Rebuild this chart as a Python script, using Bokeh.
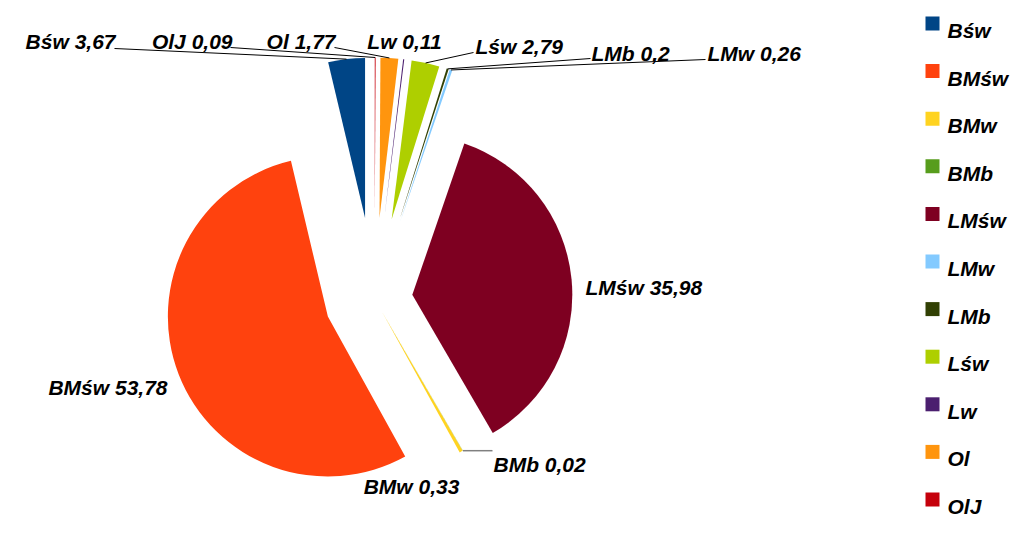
import math
from bokeh.plotting import figure
from bokeh.models import Range1d, ColumnDataSource
from bokeh.core.properties import value
from bokeh.embed import file_html
from bokeh.resources import INLINE

# ---- data ----
categories = ["Bśw", "BMśw", "BMw", "BMb", "LMśw", "LMw", "LMb", "Lśw", "Lw", "Ol", "OlJ"]
shares = [3.67, 53.78, 0.33, 0.02, 35.98, 0.26, 0.2, 2.79, 0.11, 1.77, 0.09]
colors = ["#004586", "#ff420e", "#ffd320", "#579d1c", "#7e0021", "#83caff",
          "#314004", "#aecf00", "#4b1f6f", "#ff950e", "#c5000b"]

# ---- styling / layout (pixels) ----
explode = [81, 50, 16, 16, 38, 81, 81, 81, 81, 81, 81]
W, H = 1017, 520
FONT = value("Liberation Sans")
FS = "21px"


def Y(img_y):
    return H - img_y


cx, cy = 374, Y(298)
R = 160

# label anchors in picture pixels: (x, baseline y, align, leader start or None)
label_layout = {
    "Bśw": (115, 41, "right", (114, 48)),
    "OlJ": (232, 41, "right", (230, 47)),
    "Ol": (335, 41, "right", (334, 47)),
    "Lw": (404, 41, "center", None),
    "Lśw": (475, 46, "left", (473, 52)),
    "LMb": (591, 53, "left", (590, 58)),
    "LMw": (707, 53, "left", (705, 59)),
    "LMśw": (585, 287, "left", None),
    "BMśw": (167, 387, "right", None),
    "BMw": (411, 486, "center", None),
    "BMb": (493, 464, "left", "side"),
}

p = figure(width=W, height=H, output_backend="svg", toolbar_location=None,
           x_range=Range1d(0, W), y_range=Range1d(0, H),
           min_border=0, outline_line_color=None)
p.axis.visible = False
p.grid.visible = False
p.background_fill_color = "white"
p.border_fill_color = "white"

total = sum(shares)
ang = math.pi / 2
xs, ys, starts, ends, bis = [], [], [], [], []
for s, d in zip(shares, explode):
    sweep = s / total * 2 * math.pi
    mid = ang + sweep / 2
    xs.append(cx + d * math.cos(mid))
    ys.append(cy + d * math.sin(mid))
    starts.append(ang)
    ends.append(ang + sweep)
    bis.append(mid)
    ang += sweep

src = ColumnDataSource(dict(x=xs, y=ys, start=starts, end=ends, color=colors, name=categories))
p.wedge(x="x", y="y", radius=R, start_angle="start", end_angle="end",
        direction="anticlock", fill_color="color", line_color=None, source=src)

# labels and leader lines
for name, sh, x0, y0, mid in zip(categories, shares, xs, ys, bis):
    lx, ly, align, leader = label_layout[name]
    txt = f"{name} {sh}".replace(".", ",")
    p.text(x=[lx], y=[Y(ly)], text=[txt], text_align=align, text_baseline="alphabetic",
           text_font=FONT, text_font_style="bold italic", text_font_size=FS,
           text_color="black")
    ox = x0 + R * math.cos(mid)
    oy = y0 + R * math.sin(mid)
    if leader == "side":
        p.line(x=[ox, lx - 1], y=[oy, oy], line_color="#808080", line_width=1.5)
    elif leader is not None:
        p.line(x=[leader[0], ox], y=[Y(leader[1]), oy], line_color="black", line_width=1)

# legend
leg_x, txt_x, leg_y0, pitch = 932, 947, 23, 47.6
for i, (name, c) in enumerate(zip(categories, colors)):
    yc = leg_y0 + i * pitch
    p.scatter(x=[leg_x], y=[Y(yc)], marker="square", size=14, fill_color=c, line_color=None)
    p.text(x=[txt_x], y=[Y(yc + 7)], text=[name], text_align="left", text_baseline="alphabetic",
           text_font=FONT, text_font_style="bold italic", text_font_size=FS,
           text_color="black")

open("out.html", "w").write(file_html(p, INLINE))
